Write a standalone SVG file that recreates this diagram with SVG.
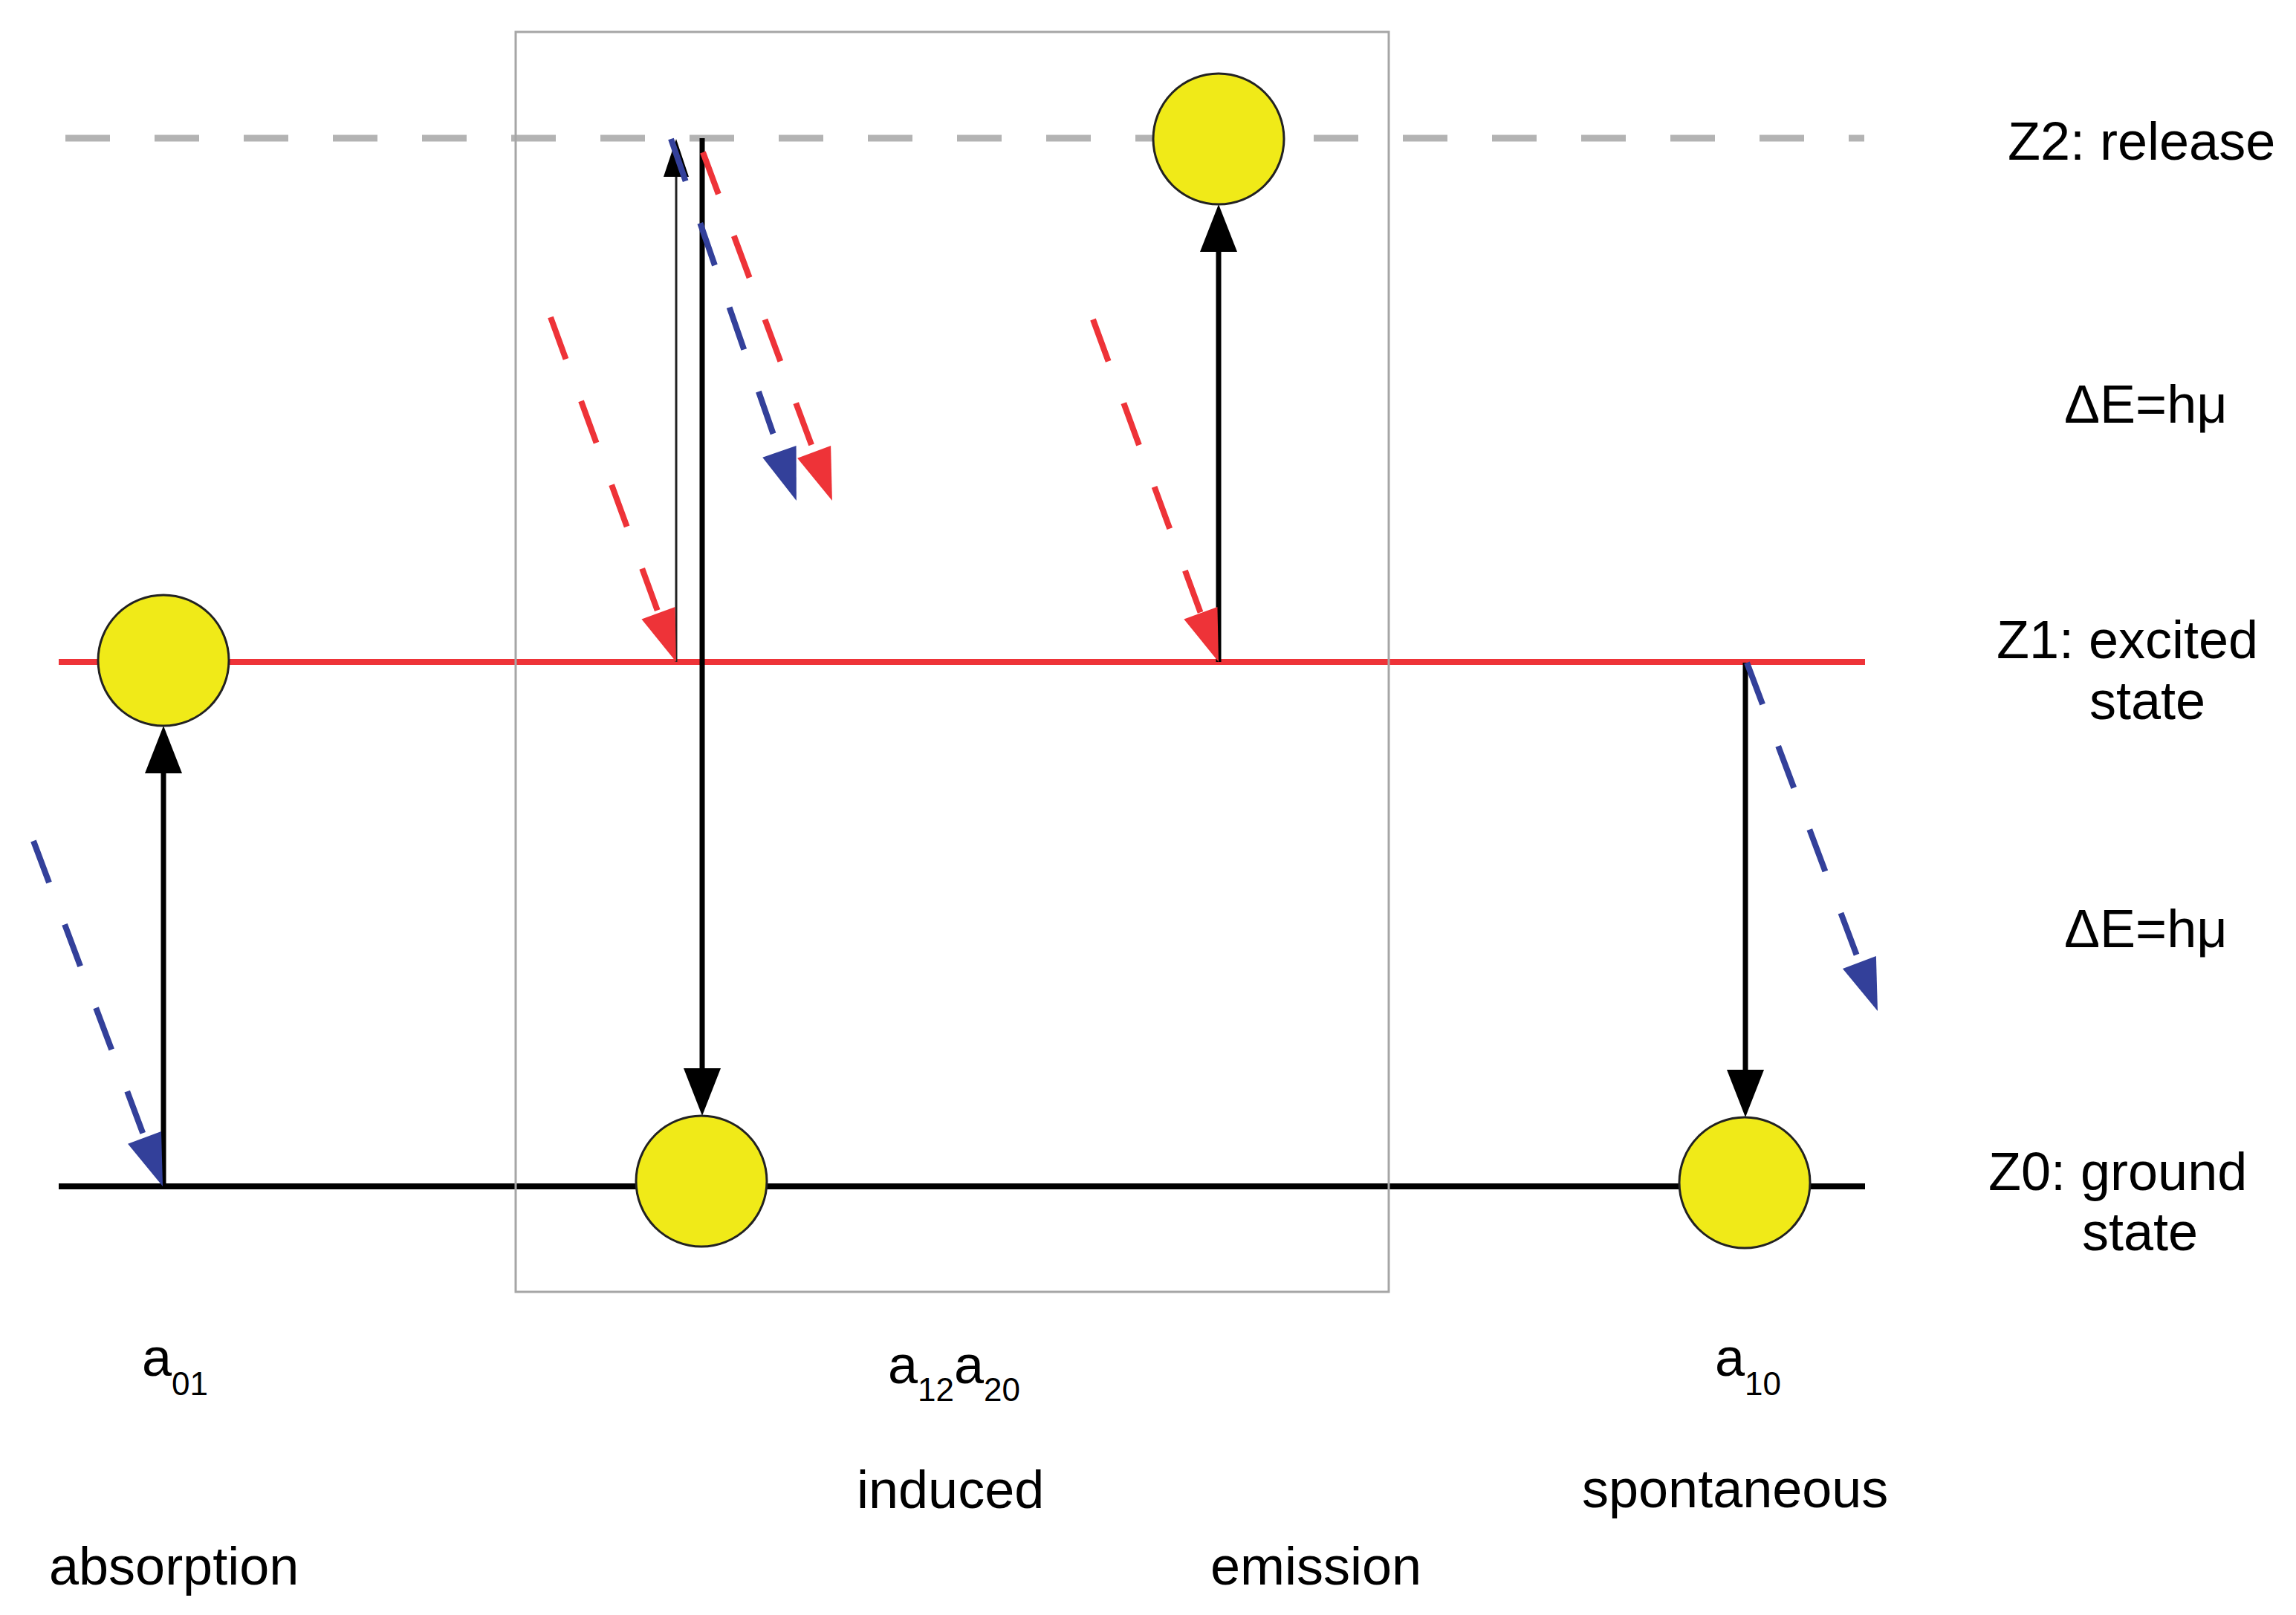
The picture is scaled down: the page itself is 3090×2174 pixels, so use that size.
<svg xmlns="http://www.w3.org/2000/svg" width="3090" height="2174" viewBox="0 0 3090 2174">
<style>
text{font-family:"Liberation Sans",Arial,sans-serif;font-size:72px;fill:#000}
.sub{font-size:44px}
.atom{fill:#f0ea18;stroke:#222;stroke-width:3}
.solid{stroke:#000;stroke-width:7;fill:none}
.thin{stroke:#222;stroke-width:3;fill:none}
.red{stroke:#ee3338;stroke-width:8;fill:none;stroke-dasharray:60 60}
.blue{stroke:#33409a;stroke-width:8;fill:none;stroke-dasharray:60 60}
</style>
<defs>
<marker id="ah" markerUnits="userSpaceOnUse" markerWidth="70" markerHeight="56" refX="0" refY="25" orient="auto" overflow="visible"><path d="M0,0 L64,25 L0,50 z" fill="#000"/></marker>
<marker id="ahThin" markerUnits="userSpaceOnUse" markerWidth="56" markerHeight="40" refX="0" refY="17" orient="auto" overflow="visible"><path d="M0,0 L51,17 L0,34 z" fill="#000"/></marker>
<marker id="ahRed" markerUnits="userSpaceOnUse" markerWidth="76" markerHeight="52" refX="0" refY="24" orient="auto" overflow="visible"><path d="M0,0 L70,24 L0,48 z" fill="#ee3338"/></marker>
<marker id="ahBlue" markerUnits="userSpaceOnUse" markerWidth="76" markerHeight="52" refX="0" refY="24" orient="auto" overflow="visible"><path d="M0,0 L70,24 L0,48 z" fill="#33409a"/></marker>
</defs>
<rect width="3090" height="2174" fill="#fff"/>
<g id="levels">
<line x1="88" y1="186" x2="2509" y2="186" stroke="#b3b3b3" stroke-width="9" stroke-dasharray="60 60"/>
<line x1="79" y1="891" x2="2510" y2="891" stroke="#ee3338" stroke-width="8"/>
<line x1="79" y1="1597" x2="2510" y2="1597" stroke="#000" stroke-width="8"/>
</g>
<g id="frame"><rect x="694" y="43" width="1175" height="1696" fill="none" stroke="#a6a6a6" stroke-width="3"/></g>
<g id="connectors">
<line class="solid" x1="220" y1="1597" x2="220" y2="1041" marker-end="url(#ah)"/>
<line class="thin" x1="910" y1="891" x2="910" y2="238" marker-end="url(#ahThin)"/>
<line class="solid" x1="945" y1="186" x2="945" y2="1438" marker-end="url(#ah)"/>
<line class="solid" x1="1640" y1="891" x2="1640" y2="339" marker-end="url(#ah)"/>
<line class="solid" x1="2349" y1="892" x2="2349" y2="1440" marker-end="url(#ah)"/>
<line class="blue" x1="45" y1="1132" x2="194.5" y2="1531.4" marker-end="url(#ahBlue)"/>
<line class="red" x1="741" y1="427" x2="886" y2="825.2" marker-end="url(#ahRed)"/>
<line class="blue" x1="903" y1="187" x2="1048.9" y2="607.9" marker-end="url(#ahBlue)"/>
<line class="red" x1="946" y1="205" x2="1095.6" y2="608.3" marker-end="url(#ahRed)"/>
<line class="red" x1="1471" y1="430" x2="1615.9" y2="825.3" marker-end="url(#ahRed)"/>
<line class="blue" x1="2351" y1="892" x2="2502.4" y2="1295.5" marker-end="url(#ahBlue)"/>
</g>
<g id="atom-absorption"><circle class="atom" cx="220" cy="889" r="88"/></g>
<g id="atom-induced"><circle class="atom" cx="944" cy="1590" r="88"/></g>
<g id="atom-released"><circle class="atom" cx="1640" cy="187" r="88"/></g>
<g id="atom-spontaneous"><circle class="atom" cx="2348" cy="1592" r="88"/></g>
<g id="labels">
<text x="2702" y="215">Z2: release</text>
<text x="2778" y="569">ΔE=hμ</text>
<text x="2687" y="886">Z1: excited</text>
<text x="2812" y="968">state</text>
<text x="2778" y="1275">ΔE=hμ</text>
<text x="2676" y="1602">Z0: ground</text>
<text x="2802" y="1683">state</text>
<text x="191" y="1852">a<tspan class="sub" y="1878">01</tspan></text>
<text x="1195" y="1862">a<tspan class="sub" y="1886">12</tspan><tspan y="1862">a</tspan><tspan class="sub" y="1886">20</tspan></text>
<text x="2308" y="1852">a<tspan class="sub" y="1878">10</tspan></text>
<text x="1153" y="2030">induced</text>
<text x="2129" y="2029">spontaneous</text>
<text x="66" y="2133">absorption</text>
<text x="1629" y="2133">emission</text>
</g>
</svg>
